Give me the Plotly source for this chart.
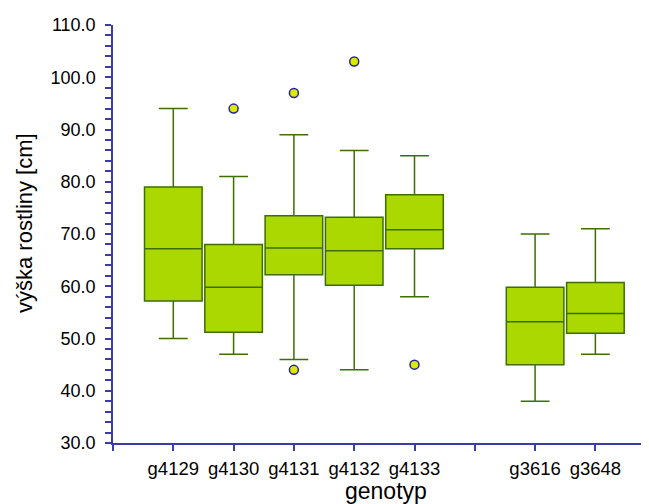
import plotly.graph_objects as go

# Data
group1 = ["g4129", "g4130", "g4131", "g4132", "g4133"]
group2 = ["g3616", "g3648"]
categories = group1 + group2

lower_whisker = [50.0, 47.0, 46.0, 44.0, 58.0, 38.0, 47.0]
q1_values     = [57.2, 51.2, 62.2, 60.2, 67.2, 45.0, 51.0]
medians       = [67.2, 59.8, 67.3, 66.8, 70.8, 53.2, 54.8]
q3_values     = [79.0, 68.0, 73.5, 73.2, 77.5, 59.8, 60.7]
upper_whisker = [94.0, 81.0, 89.0, 86.0, 85.0, 70.0, 71.0]

outlier_genotypes = ["g4130", "g4131", "g4131", "g4132", "g4133"]
outlier_values    = [94.0, 97.0, 44.0, 103.0, 45.0]

# category positions: first group, one empty slot, then second group
positions = {}
for i, c in enumerate(group1):
    positions[c] = i + 1
for i, c in enumerate(group2):
    positions[c] = len(group1) + 2 + i

FILL = "#aad800"
EDGE = "#3f6e00"
AXIS = "#3b3baa"
FONT = "Liberation Sans, Arial, sans-serif"

fig = go.Figure()
for k, c in enumerate(categories):
    fig.add_trace(go.Box(
        x=[positions[c]],
        q1=[q1_values[k]], median=[medians[k]], q3=[q3_values[k]],
        lowerfence=[lower_whisker[k]], upperfence=[upper_whisker[k]],
        width=0.955, whiskerwidth=0.5,
        fillcolor=FILL, line=dict(color=EDGE, width=1.5),
        boxpoints=False, showlegend=False, hoverinfo="skip",
    ))

fig.add_trace(go.Scatter(
    x=[positions[g] for g in outlier_genotypes], y=outlier_values,
    mode="markers",
    marker=dict(symbol="circle", size=9, color="#dcea00",
                line=dict(color="#2424a0", width=1.5)),
    showlegend=False, hoverinfo="skip",
))

last_slot = len(group1) + 1 + len(group2)
tickvals = list(range(0, last_slot + 1))
inv = {v: k for k, v in positions.items()}
ticktext = [inv.get(v, "") for v in tickvals]

fig.update_layout(
    width=641, height=496,
    margin=dict(l=105, r=0, t=17, b=61),
    paper_bgcolor="white", plot_bgcolor="white",
    font=dict(family=FONT, size=18, color="black"),
    xaxis=dict(
        range=[0, 8.889], tickmode="array", tickvals=tickvals, ticktext=ticktext,
        showgrid=False, zeroline=False, showline=True, linecolor=AXIS, linewidth=1.5,
        ticks="outside", ticklen=6, tickcolor=AXIS, tickwidth=1.5,
        tickfont=dict(size=18.5), ticklabelstandoff=2,
    ),
    yaxis=dict(
        range=[30, 110], dtick=10, tick0=30, tickformat=".1f",
        showgrid=False, zeroline=False, showline=True, linecolor=AXIS, linewidth=1.5,
        ticks="outside", ticklen=6, tickcolor=AXIS, tickwidth=1.5,
        minor=dict(dtick=2, ticks="outside", ticklen=6, tickcolor=AXIS, tickwidth=1.5, showgrid=False),
        tickfont=dict(size=18), ticklabelstandoff=6,
    ),
    annotations=[
        dict(text="genotyp", xref="paper", yref="paper", x=0.5093, y=-0.1148,
             xanchor="center", yanchor="middle", showarrow=False,
             font=dict(size=23)),
        dict(text="výška rostliny [cm]", xref="paper", yref="paper", x=-0.166, y=0.5263,
             xanchor="center", yanchor="middle", showarrow=False, textangle=-90,
             font=dict(size=22)),
    ],
)

fig.write_html("out.html")
